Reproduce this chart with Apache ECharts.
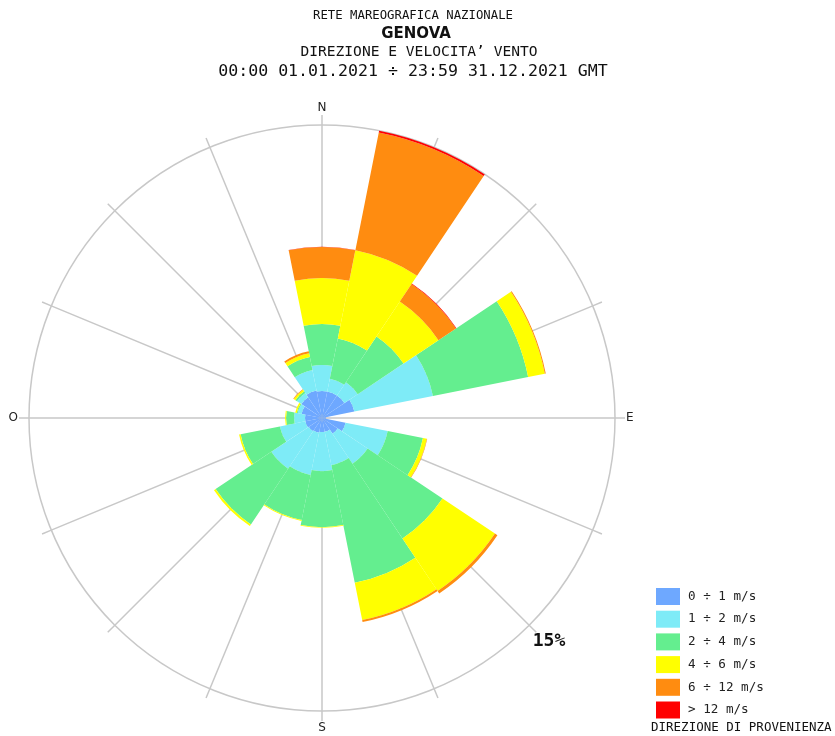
<!DOCTYPE html>
<html>
<head>
<meta charset="utf-8">
<script src="https://cdn.jsdelivr.net/npm/echarts@6/dist/echarts.min.js"></script>
<style>
  html, body { margin: 0; padding: 0; background: #fff; }
  #chart { width: 835px; height: 736px; }
</style>
</head>
<body>
<div id="chart"></div>
<script>
// direzioni di provenienza (16 settori)
const directions = ['N', 'NNE', 'NE', 'ENE', 'E', 'ESE', 'SE', 'SSE', 'S', 'SSW', 'SW', 'WSW', 'W', 'WNW', 'NW', 'NNW']

// frequenze % per classe di velocita'
const speed0_1 = [1.38, 1.38, 1.38, 1.69, 0.20, 1.23, 0.97, 0.72, 0.72, 0.77, 0.82, 0.87, 0.87, 1.07, 1.28, 1.43]
const speed1_2 = [1.33, 0.67, 0.82, 4.10, 0.00, 2.20, 1.84, 1.74, 2.00, 2.20, 2.30, 1.33, 0.56, 0.20, 0.26, 1.08]
const speed2_4 = [2.10, 2.10, 2.82, 4.97, 0.00, 1.84, 4.61, 6.14, 2.87, 2.35, 3.43, 2.05, 0.41, 0.05, 0.10, 0.67]
const speed4_6 = [2.35, 4.61, 2.15, 0.87, 0.00, 0.20, 3.23, 1.95, 0.03, 0.05, 0.10, 0.08, 0.05, 0.08, 0.10, 0.20]
const speed6_12 = [1.59, 6.14, 1.08, 0.05, 0.00, 0.02, 0.15, 0.10, 0.00, 0.00, 0.00, 0.00, 0.00, 0.00, 0.03, 0.10]
const speed12 = [0.02, 0.12, 0.03, 0.00, 0.00, 0.00, 0.00, 0.00, 0.00, 0.00, 0.00, 0.00, 0.00, 0.00, 0.00, 0.00]

const classNames = ['0 ÷ 1 m/s', '1 ÷ 2 m/s', '2 ÷ 4 m/s', '4 ÷ 6 m/s', '6 ÷ 12 m/s', '> 12 m/s']
const classColors = ['#6ea8ff', '#7eebf7', '#64ee8f', '#ffff00', '#ff8c10', '#ff0000']
const classData = [speed0_1, speed1_2, speed2_4, speed4_6, speed6_12, speed12]

const compassLabels = { 0: 'N', 90: 'E', 180: 'S', 270: 'O' }
const maxPercent = 15

const mono = '"DejaVu Sans Mono", monospace'

const series = classNames.map(function (name, i) {
  return {
    name: name,
    type: 'bar',
    coordinateSystem: 'polar',
    polarIndex: 0,
    stack: 'vento',
    barCategoryGap: '0%',
    itemStyle: { color: classColors[i] },
    silent: true,
    data: classData[i]
  }
})

const option = {
  animation: false,
  backgroundColor: '#fff',
  polar: [
    { center: [322, 418], radius: 293 },
    { center: [322, 418], radius: 293 }
  ],
  angleAxis: [
    {
      polarIndex: 0,
      type: 'category',
      data: directions,
      startAngle: 90 + 11.25,
      clockwise: true,
      axisLine: { show: false },
      axisTick: { show: false },
      axisLabel: { show: false },
      splitLine: { show: false }
    },
    {
      polarIndex: 1,
      type: 'value',
      min: 0,
      max: 360,
      interval: 22.5,
      startAngle: 90,
      clockwise: true,
      z: 0,
      axisLine: { show: true, lineStyle: { color: '#c8c8c8', width: 1.5 } },
      axisTick: { show: true, length: 10, lineStyle: { color: '#c8c8c8', width: 1.5 } },
      splitLine: { show: true, lineStyle: { color: '#c8c8c8', width: 1.5 } },
      axisLabel: {
        margin: 11,
        color: '#222',
        fontFamily: 'DejaVu Sans',
        fontSize: 12,
        formatter: function (v) { return compassLabels[v] || '' }
      }
    }
  ],
  radiusAxis: [
    { polarIndex: 0, type: 'value', min: 0, max: maxPercent, show: false },
    { polarIndex: 1, type: 'value', min: 0, max: maxPercent, show: false }
  ],
  legend: {
    data: classNames.map(function (n) { return { name: n, icon: 'rect' } }),
    orient: 'vertical',
    left: 651,
    top: 583,
    itemWidth: 24,
    itemHeight: 17,
    itemGap: 5.7,
    selectedMode: false,
    textStyle: { fontFamily: mono, fontSize: 12.6, color: '#222', padding: [0, 0, 0, 3] }
  },
  graphic: [
    { type: 'text', style: { text: 'RETE MAREOGRAFICA NAZIONALE', x: 413, y: 16, textAlign: 'center', textVerticalAlign: 'middle', font: '12.3px ' + mono, fill: '#111' } },
    { type: 'text', style: { text: 'GENOVA', x: 416, y: 34, textAlign: 'center', textVerticalAlign: 'middle', font: 'bold 15px "DejaVu Sans"', fill: '#111' } },
    { type: 'text', style: { text: 'DIREZIONE E VELOCITA\u2019 VENTO', x: 419, y: 52, textAlign: 'center', textVerticalAlign: 'middle', font: '14.6px ' + mono, fill: '#111' } },
    { type: 'text', style: { text: '00:00 01.01.2021 ÷ 23:59 31.12.2021 GMT', x: 413, y: 72, textAlign: 'center', textVerticalAlign: 'middle', font: '16.6px ' + mono, fill: '#111' } },
    { type: 'text', style: { text: maxPercent + '%', x: 549, y: 641, textAlign: 'center', textVerticalAlign: 'middle', font: 'bold 18px ' + mono, fill: '#111' } },
    { type: 'text', style: { text: 'DIREZIONE DI PROVENIENZA', x: 651, y: 728, textAlign: 'left', textVerticalAlign: 'middle', font: '12.5px ' + mono, fill: '#111' } }
  ],
  series: series
}

const myChart = echarts.init(document.getElementById('chart'))
myChart.setOption(option)
</script>
</body>
</html>
